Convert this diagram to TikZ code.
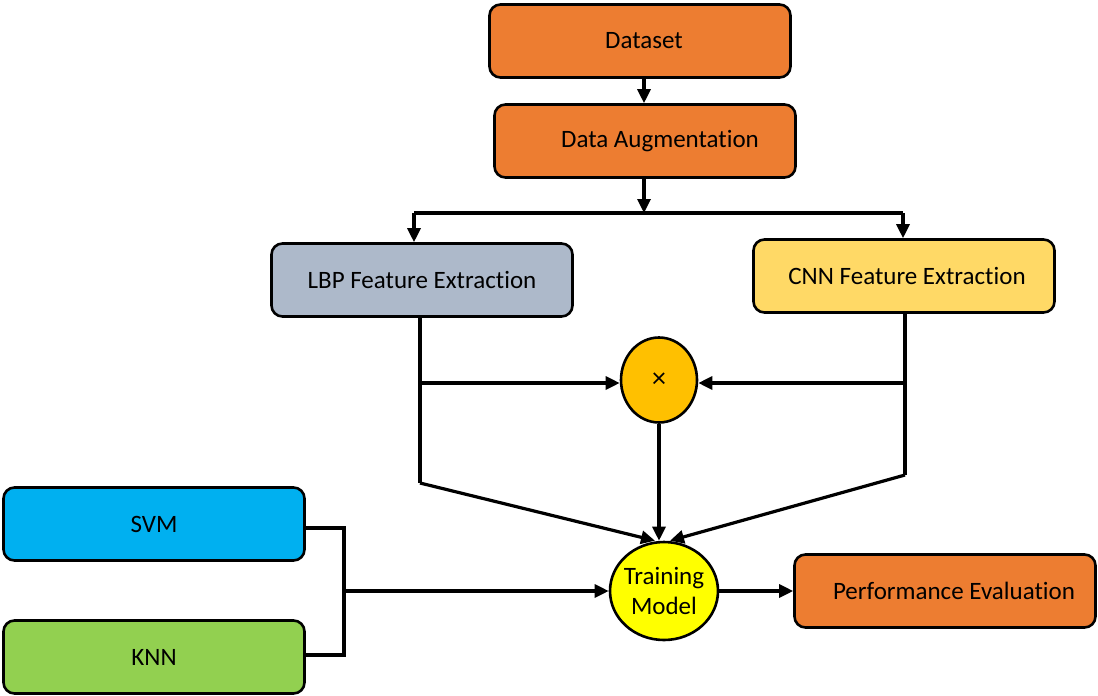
\documentclass[tikz,border=0pt]{standalone}
\usepackage{fontspec}
\setmainfont{Carlito}[Ligatures=NoCommon]
\usetikzlibrary{arrows.meta, shapes.geometric}

\definecolor{boxorange}{HTML}{ED7D31}
\definecolor{boxgrey}{HTML}{ADB9CA}
\definecolor{boxgold}{HTML}{FFD966}
\definecolor{fuseamber}{HTML}{FFC000}
\definecolor{trainyellow}{HTML}{FFFF00}
\definecolor{svmblue}{HTML}{00B0F0}
\definecolor{knngreen}{HTML}{92D050}

\tikzset{
  stagebox/.style={draw, line width=2.6pt, rounded corners=11pt,
    minimum width=301pt, minimum height=73pt,
    font=\fontsize{25}{30}\selectfont},
  roundnode/.style={draw, ellipse, line width=2.6pt, inner sep=-6pt,
    font=\fontsize{25}{30}\selectfont},
  flow/.style={line width=3.2pt, -{Triangle[length=14pt, width=13pt]}},
  wire/.style={line width=3.2pt}
}

\begin{document}
\begin{tikzpicture}[x=1pt, y=-1pt]

  \useasboundingbox (0,0) rectangle (1098,696);

  % boxes
  \node (data) [stagebox, fill=boxorange] at (640,41) {\hspace{8pt}Dataset};
  \node (aug) [stagebox, fill=boxorange] at (645,141) {\hspace{30pt}Data Augmentation};
  \node (lbp) [stagebox, fill=boxgrey] at (422,280) {LBP Feature Extraction};
  \node (cnn) [stagebox, fill=boxgold] at (904,276) {\hspace{6pt}CNN Feature Extraction};
  \node (svm) [stagebox, fill=svmblue] at (154,524) {SVM};
  \node (knn) [stagebox, fill=knngreen] at (154,657) {KNN};
  \node (perf) [stagebox, fill=boxorange] at (945,591) {\hspace{18pt}Performance Evaluation};

  % fusion and training
  \node (fuse) [roundnode, fill=fuseamber, minimum width=76pt, minimum height=85pt]
    at (659,380) {\fontsize{28}{30}\selectfont ×};
  \node (train) [roundnode, fill=trainyellow, minimum width=108pt, minimum height=98pt,
    align=center] at (664,591) {Training\\Model};

  % junction points
  \coordinate (split) at (644,213);
  \coordinate (splitL) at (414,213);
  \coordinate (splitR) at (903,213);
  \coordinate (lbpTap) at (420,383);
  \coordinate (lbpEnd) at (420,483);
  \coordinate (cnnTap) at (905,383);
  \coordinate (cnnEnd) at (905,475);
  \coordinate (clsTop) at (344,528);
  \coordinate (clsBot) at (344,655);
  \coordinate (clsMid) at (344,591);

  % top chain
  \draw[flow] (data.south -| split) to (aug.north -| split);
  \draw[flow] (aug.south -| split) to (split);
  \draw[wire] (splitL) to (splitR);
  \draw[flow] (splitL) to (lbp.north -| splitL);
  \draw[flow] (splitR) to (cnn.north -| splitR);

  % feature branches
  \draw[wire] (lbp.south -| lbpTap) to (lbpEnd);
  \draw[flow] (lbpTap) to (fuse.west |- lbpTap);
  \draw[flow] (lbpEnd) to ([xshift=-9pt]train.north);
  \draw[wire] (cnn.south -| cnnTap) to (cnnEnd);
  \draw[flow] (cnnTap) to (fuse.east |- cnnTap);
  \draw[flow] (cnnEnd) to ([xshift=6pt]train.north);
  \draw[flow] (fuse.south) to (fuse.south |- train.north);

  % classifiers
  \draw[wire] (svm.east |- clsTop) to (clsTop) to (clsBot) to (knn.east |- clsBot);
  \draw[flow] (clsMid) to (train.west);

  % evaluation
  \draw[flow] (train.east) to (perf.west);

\end{tikzpicture}
\end{document}
